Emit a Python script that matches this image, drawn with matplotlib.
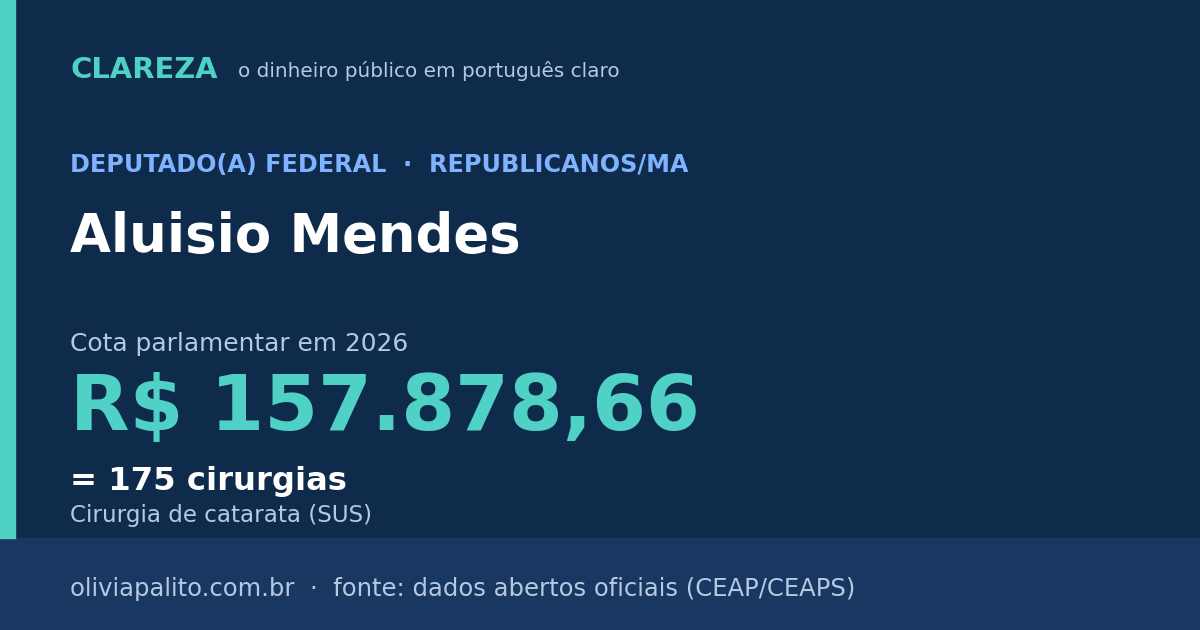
import matplotlib
matplotlib.use("Agg")
import matplotlib.pyplot as plt
from matplotlib.patches import Rectangle

plt.rcParams['font.family'] = ['DejaVu Sans']

W, H = 1200, 630

brand = "CLAREZA"
tagline = "o dinheiro público em português claro"
role = "DEPUTADO(A) FEDERAL  ·  REPUBLICANOS/MA"
name = "Aluisio Mendes"
quota_label = "Cota parlamentar em 2026"
quota_value = "R$ 157.878,66"
equiv = "= 175 cirurgias"
equiv_item = "Cirurgia de catarata (SUS)"
footer = "oliviapalito.com.br  ·  fonte: dados abertos oficiais (CEAP/CEAPS)"

BG = "#0f2b4c"
FOOT = "#183862"
TEAL = "#4fd1c5"
BLUE = "#7fb3ff"
MUTED = "#b6c8e2"
WHITE = "#ffffff"

fig = plt.figure(figsize=(W / 100, H / 100), dpi=100, facecolor=BG)


def px(x, y):
    return x / W, 1 - y / H


fig.patches.append(Rectangle((0, 0), 1, 92 / H, transform=fig.transFigure, color=FOOT, zorder=0))
fig.patches.append(Rectangle((0, 92 / H), 15 / W, 1 - 92 / H, transform=fig.transFigure, color=TEAL, zorder=0))


def txt(x, y, s, size, color, weight="normal"):
    fig.text(*px(x, y), s, fontsize=size, color=color, fontweight=weight, va="baseline", ha="left")


txt(70, 78, brand, 20.9, TEAL, "bold")
txt(238, 77, tagline, 14.4, MUTED)
txt(70, 172, role, 17.2, BLUE, "bold")
txt(70, 252, name, 38.1, WHITE, "bold")
txt(70, 351, quota_label, 17.9, MUTED)
txt(70, 430, quota_value, 55.7, TEAL, "bold")
txt(70, 490, equiv, 23.2, WHITE, "bold")
txt(70, 522, equiv_item, 16.6, MUTED)
txt(70, 596, footer, 17.5, MUTED)

fig.savefig("out.png", dpi=100, facecolor=BG)
